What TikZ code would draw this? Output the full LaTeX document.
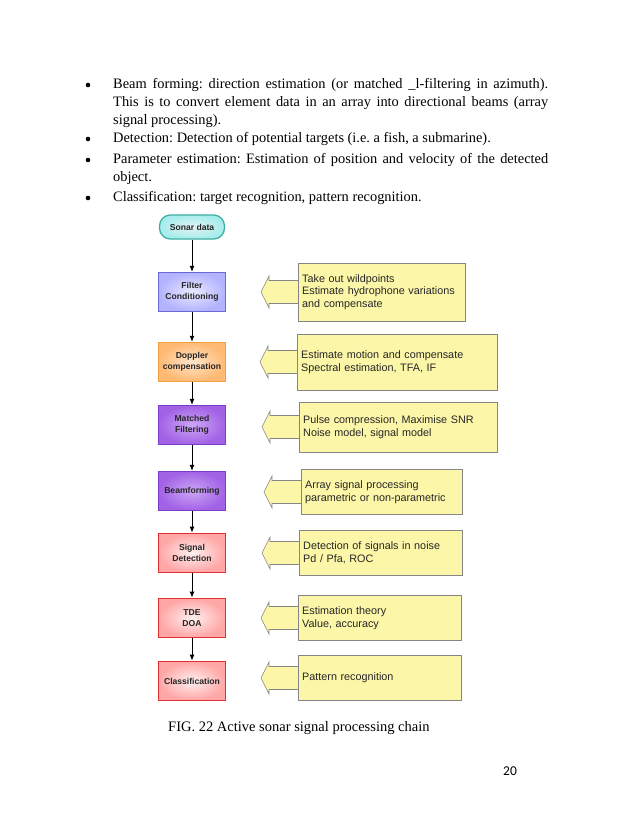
\documentclass[tikz,border=0pt]{standalone}
\usepackage{fontspec}
\setmainfont{Liberation Serif}
\setsansfont{Liberation Sans}
\newfontfamily\pagefont{Carlito}
\usetikzlibrary{positioning,arrows.meta,backgrounds}
\frenchspacing
\definecolor{tealline}{HTML}{40B0A0}
\definecolor{blueline}{HTML}{6868D8}
\definecolor{orangeline}{HTML}{F0A040}
\definecolor{purpleline}{HTML}{7A3CC4}
\definecolor{purplein}{HTML}{CDA6F5}
\definecolor{purpleout}{HTML}{A262E6}
\definecolor{redline}{HTML}{E03030}
\definecolor{notefill}{HTML}{FCF6A8}
\definecolor{noteline}{HTML}{858585}
\tikzset{
  para/.style={anchor=base west,text width=435pt,align=justify,inner sep=0pt,
    font=\fontsize{14.4}{18}\selectfont},
  dot/.style={circle,fill=black,inner sep=0pt,minimum size=4.6pt},
  stage/.style={draw,line width=1.3pt,minimum width=67pt,minimum height=39pt,
    align=center,text=black!85,font=\sffamily\bfseries\fontsize{8.6}{11}\selectfont},
  startbox/.style={stage,rounded corners=11pt,minimum height=24pt,minimum width=65pt,
    draw=tealline,inner color=teal!10,outer color=teal!40!cyan!35},
  bluebox/.style={draw=blueline,inner color=blue!8,outer color=blue!30},
  orangebox/.style={draw=orangeline,inner color=orange!20,outer color=orange!55},
  purplebox/.style={draw=purpleline,inner color=purplein,outer color=purpleout},
  redbox/.style={draw=redline,line width=1.8pt,inner color=red!6,outer color=red!35},
  note/.style={draw=noteline,fill=notefill,anchor=west,align=left,inner xsep=4pt,
    text=black!85,font=\sffamily\fontsize{10.8}{12.5}\selectfont},
  notearrow/.style={draw=noteline,fill=notefill,line join=miter,line width=0.6pt},
  flow/.style={line width=0.9pt,-{Latex[length=6pt,width=5pt]}}
}
\begin{document}
\begin{tikzpicture}[x=1pt,y=-1pt]
\useasboundingbox(0,0)rectangle(638,826);
\begin{scope}[on background layer]
\fill[white](0,0)rectangle(638,826);
\end{scope}
%bullet list
\node[dot] (b1) at (88,85) {};
\node[para] (p1) at (113,89) {Beam forming: direction estimation (or matched \_l-filtering in azimuth).\linebreak
This is to convert element data in an array into directional beams (array\linebreak
signal processing).};
\node[dot] (b2) at (88,139) {};
\node[para] (p2) at (113,143) {Detection: Detection of potential targets (i.e. a fish, a submarine).};
\node[dot] (b3) at (88,160) {};
\node[para] (p3) at (113,164) {Parameter estimation: Estimation of position and velocity of the detected\linebreak
object.};
\node[dot] (b4) at (88,198) {};
\node[para] (p4) at (113,202) {Classification: target recognition, pattern recognition.};
%processing chain
\node[startbox] (sonar) at (192,227) {Sonar data};
\node[stage,bluebox] (filter) at (192,292) {Filter\\Conditioning};
\node[stage,orangebox] (doppler) at (192,362) {Doppler\\compensation};
\node[stage,purplebox] (matched) at (192,425) {Matched\\Filtering};
\node[stage,purplebox] (beam) at (192,491) {Beamforming};
\node[stage,redbox] (detect) at (192,553) {Signal\\Detection};
\node[stage,redbox] (tde) at (192,618) {TDE\\DOA};
\node[stage,redbox] (class) at (192,681) {Classification};
\draw[flow](sonar)--(filter);
\draw[flow](filter)--(doppler);
\draw[flow](doppler)--(matched);
\draw[flow](matched)--(beam);
\draw[flow](beam)--(detect);
\draw[flow](detect)--(tde);
\draw[flow](tde)--(class);
%notes
\node[note,text width=159pt,minimum height=58pt] (n1) at (298,292) {Take out wildpoints\\Estimate hydrophone variations\\and compensate};
\node[note,text width=192pt,minimum height=56pt] (n2) at (297,362) {Estimate motion and compensate\\Spectral estimation, TFA, IF};
\node[note,text width=190pt,minimum height=50pt] (n3) at (299,427) {Pulse compression, Maximise SNR\\Noise model, signal model};
\node[note,text width=153pt,minimum height=45pt] (n4) at (301,492) {Array signal processing\\parametric or non-parametric};
\node[note,text width=155pt,minimum height=45pt] (n5) at (299,553) {Detection of signals in noise\\Pd / Pfa, ROC};
\node[note,text width=155pt,minimum height=45pt] (n6) at (298,618) {Estimation theory\\Value, accuracy};
\node[note,text width=155pt,minimum height=45pt] (n7) at (298,678) {Pattern recognition};
\begin{scope}[on background layer]
\foreach \n in {n1,n2,n3,n4,n5,n6,n7}
  \draw[notearrow]([yshift=11.5pt]\n.west)--++(-29,0)--++(0,-4.5)--++(-8,16)--++(8,16)--++(0,-4.5)--++(29,0);
\end{scope}
%caption
\node[anchor=base west,inner sep=0pt,font=\fontsize{14.5}{17}\selectfont] (cap) at (168,731) {FIG. 22 Active sonar signal processing chain};
\node[anchor=base,inner sep=0pt,font=\pagefont\fontsize{13.5}{15}\selectfont] (page) at (510,775) {20};
\end{tikzpicture}
\end{document}
